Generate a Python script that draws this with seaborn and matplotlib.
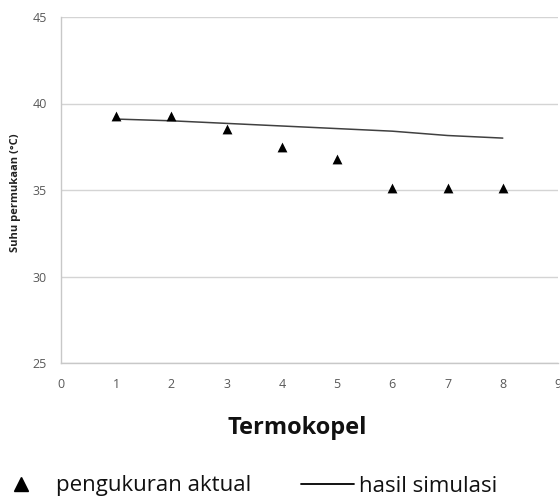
import matplotlib
matplotlib.use("Agg")
import matplotlib.pyplot as plt
import seaborn as sns
import pandas as pd
from matplotlib.lines import Line2D

termokopel = [1, 2, 3, 4, 5, 6, 7, 8]
pengukuran_aktual = [39.3, 39.3, 38.5, 37.5, 36.8, 35.1, 35.1, 35.1]
hasil_simulasi = [39.1, 39.0, 38.85, 38.7, 38.55, 38.4, 38.15, 38.0]
x_ticks = list(range(0, 10))
y_ticks = [25, 30, 35, 40, 45]

df = pd.DataFrame({"x": termokopel, "aktual": pengukuran_aktual, "simulasi": hasil_simulasi})

sns.set_style("white")
plt.rcParams["font.family"] = ["Open Sans", "DejaVu Sans"]

fig = plt.figure(figsize=(5.6, 4.99), dpi=100)
ax = fig.add_axes([61/560, 1 - 363/499, (558 - 61)/560, (363 - 17)/499])

sns.lineplot(data=df, x="x", y="simulasi", ax=ax, color="#404040", linewidth=1.1, legend=False)
sns.scatterplot(data=df, x="x", y="aktual", ax=ax, marker="^", color="black", s=50,
                edgecolor="black", linewidth=0, legend=False, zorder=3)

ax.set_xlim(0, 9)
ax.set_ylim(25, 45)
ax.set_xticks(x_ticks)
ax.set_yticks(y_ticks)
ax.yaxis.grid(True, color="#d4d4d4", linewidth=1.0)
ax.xaxis.grid(False)
for side in ["top", "right"]:
    ax.spines[side].set_visible(False)
for side in ["left", "bottom"]:
    ax.spines[side].set_color("#c8c8c8")
    ax.spines[side].set_linewidth(1.0)
ax.tick_params(axis="x", direction="out", length=3, width=1, color="#c8c8c8",
               labelsize=9, labelcolor="#595959", pad=8)
ax.tick_params(axis="y", direction="out", length=4, width=1, color="#c8c8c8",
               labelsize=9, labelcolor="#595959", pad=6)
ax.set_axisbelow(True)

ax.set_xlabel("Termokopel", fontsize=17, fontweight="bold", color="#111111")
ax.xaxis.set_label_coords(0.475, -0.152)
ax.set_ylabel("Suhu permukaan (\u00b0C)", fontsize=8, fontweight="bold", color="#222222")
ax.yaxis.set_label_coords(-0.08, 0.493)

h1 = Line2D([], [], linestyle="none", marker="^", color="black", markersize=10)
h2 = Line2D([], [], color="black", linewidth=1.3)
leg1 = fig.legend([h1], ["pengukuran aktual"], loc="center left", bbox_to_anchor=(13.5/560, 1 - 486/499),
                  frameon=False, fontsize=16, handlelength=0.65, handletextpad=1.25, borderaxespad=0,
                  borderpad=0)
leg2 = fig.legend([h2], ["hasil simulasi"], loc="center left", bbox_to_anchor=(301/560, 1 - 486/499),
                  frameon=False, fontsize=16, handlelength=2.4, handletextpad=0.2, borderaxespad=0,
                  borderpad=0)
for leg in (leg1, leg2):
    for t in leg.get_texts():
        t.set_color("#111111")

fig.savefig("out.png", dpi=100)
